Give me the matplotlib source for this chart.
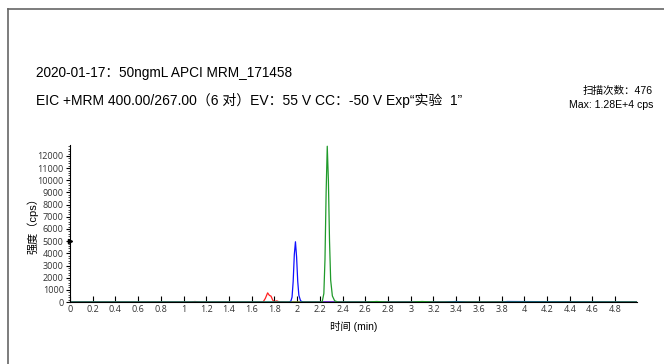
import numpy as np
import matplotlib
matplotlib.use("Agg")
import matplotlib.pyplot as plt
from matplotlib.lines import Line2D
from matplotlib.ticker import MultipleLocator

plt.rcParams['font.family'] = ['Liberation Sans', 'Noto Sans CJK SC', 'DejaVu Sans']

title1 = "2020-01-17：50ngmL APCI MRM_171458"
title2 = "EIC +MRM 400.00/267.00（6 对）EV：55 V CC：-50 V Exp\u201c实验  1\u201d"
scan_text = "扫描次数：476"
max_text = "Max: 1.28E+4 cps"
xlabel = "时间 (min)"
ylabel = "强度（cps）"

# red trace
red_t = [0.0, 1.05, 1.10, 1.15, 1.60, 1.70, 1.72, 1.74, 1.755, 1.77, 1.785, 1.80, 1.82, 1.84, 1.90, 4.35, 4.40, 4.45, 4.99]
red_i = [0, 0, 40, 0, 0, 0, 300, 750, 550, 480, 150, 30, 90, 20, 0, 0, 40, 0, 0]

# blue trace
blue_t = [0.0, 1.93, 1.945, 1.955, 1.965, 1.975, 1.985, 1.995, 2.005, 2.015, 2.03, 2.05, 3.30, 3.40, 3.50, 3.80, 3.85, 4.99]
blue_i = [0, 0, 80, 400, 1700, 3900, 4950, 3700, 1700, 550, 100, 0, 0, 40, 0, 0, 40, 0]

# green trace
green_t = [0.0, 2.22, 2.235, 2.245, 2.255, 2.265, 2.275, 2.285, 2.295, 2.31, 2.33, 2.36, 2.60, 2.70, 2.80, 3.00, 3.10, 3.20, 4.99]
green_i = [0, 0, 700, 3500, 9000, 12800, 10000, 5000, 1800, 500, 100, 0, 0, 40, 0, 0, 40, 0, 0]

fig = plt.figure(figsize=(6.64, 3.64), dpi=100)
ax = fig.add_axes([0.1054, 0.1703, 0.8536, 0.4313])

ax.plot(red_t, red_i, color='#ff2020', lw=0.9)
ax.plot(blue_t, blue_i, color='#1010ff', lw=0.9)
ax.plot(green_t, green_i, color='#1f9a2a', lw=0.9)

ax.set_xlim(0, 4.99)
ax.set_ylim(0, 12900)
ax.set_xticks(np.arange(0, 4.81, 0.2))
ax.set_xticklabels([("%g" % round(v, 1)) for v in np.arange(0, 4.81, 0.2)])
ax.set_yticks(np.arange(0, 12001, 1000))
ax.yaxis.set_minor_locator(MultipleLocator(200))
ax.tick_params(axis='x', direction='in', length=4, width=0.8, labelsize=6.5,
               labelcolor='#333333', pad=2)
ax.tick_params(axis='y', which='major', direction='out', length=3, width=0.8,
               labelsize=6.5, labelcolor='#333333', pad=1.5)
ax.tick_params(axis='y', which='minor', direction='out', length=1.5, width=0.5)
for lab in ax.get_xticklabels() + ax.get_yticklabels():
    lab.set_family(['Open Sans', 'DejaVu Sans'])
for s in ['top', 'right']:
    ax.spines[s].set_visible(False)
ax.spines['left'].set_linewidth(0.8)
ax.spines['bottom'].set_linewidth(0.8)

# small marker on the y axis
ax.plot([0], [5000], marker='>', color='black', markersize=3, clip_on=False)

ax.set_xlabel(xlabel, fontsize=7.5, labelpad=5)
ax.set_ylabel(ylabel, fontsize=8)
ax.yaxis.set_label_coords(-0.055, 0.5)

fig.text(36 / 664, 1 - 73 / 364, title1, fontsize=9.8, va='center', ha='left')
fig.text(36 / 664, 1 - 101 / 364, title2, fontsize=10, va='center', ha='left')
fig.text(653 / 664, 1 - 91 / 364, scan_text, fontsize=7.6, va='center', ha='right')
fig.text(653 / 664, 1 - 105 / 364, max_text, fontsize=7.6, va='center', ha='right')

# outer frame (top and left)
fig.add_artist(Line2D([8 / 664, 1.0], [1 - 9 / 364, 1 - 9 / 364], color='#666666', lw=1.2))
fig.add_artist(Line2D([8 / 664, 8 / 664], [0.0, 1 - 9 / 364], color='#666666', lw=1.2))

fig.savefig("out.png", dpi=100)
